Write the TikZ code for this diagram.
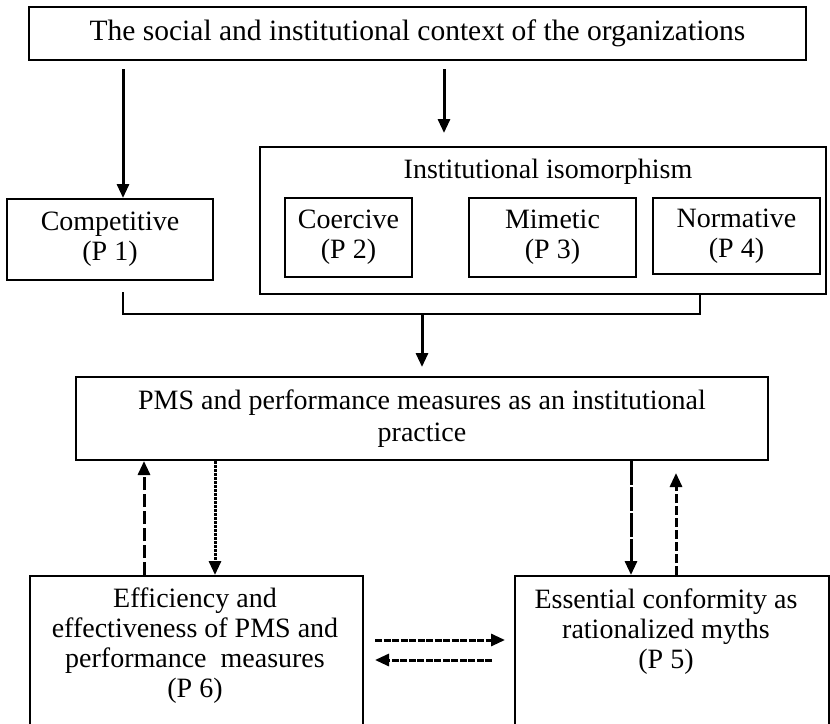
\documentclass[tikz,border=0pt]{standalone}
\usepackage{fontspec}
\setmainfont{Liberation Serif}
\usetikzlibrary{arrows.meta}
\begin{document}
\begin{tikzpicture}[x=1pt,y=-1pt,
  box/.style={draw, line width=2pt, rectangle, inner sep=0pt, align=center,
              font=\fontsize{28}{30}\selectfont},
  lbl/.style={inner sep=0pt, align=center, font=\fontsize{28}{30}\selectfont},
  tipshape/.style={-{Triangle[width=12pt,length=14pt]}},
  arr/.style={line width=3pt, tipshape},
  link/.style={line width=2pt},
  longdash/.style={arr, dash pattern=on 13pt off 4pt},
  finedash/.style={arr, dash pattern=on 3pt off 1pt},
  gapdash/.style={arr, dash pattern=on 24pt off 2pt},
  shortdash/.style={arr, dash pattern=on 9pt off 3pt},
  hdash/.style={arr, dash pattern=on 7pt off 1.5pt}
]
\useasboundingbox (0,0) rectangle (830,723);
\fill[white] (0,0) rectangle (830,723);

% top context box
\node[box, minimum width=777pt, minimum height=53pt, font=\fontsize{29.5}{30}\selectfont]
  (ctx) at (417.5,33.5)
  {The social and institutional context of the organizations};

% competitive pressure
\node[box, minimum width=206pt, minimum height=81pt] (comp) at (110,239.5)
  {Competitive\\(P 1)};

% institutional isomorphism group
\node[box, minimum width=566pt, minimum height=147pt] (inst) at (543,220.5) {};
\node[lbl] (insttitle) at (548,172) {Institutional isomorphism};
\node[box, minimum width=127pt, minimum height=79pt] (coer) at (348.5,237.5)
  {Coercive\\(P 2)};
\node[box, minimum width=167pt, minimum height=79pt] (mim) at (552.5,237.5)
  {Mimetic\\(P 3)};
\node[box, minimum width=167pt, minimum height=76pt] (norm) at (736.5,236)
  {Normative\\(P 4)};

% institutional practice
\node[box, minimum width=692pt, minimum height=83pt] (pms) at (422,418.5)
  {PMS and performance measures as an institutional\\[2pt]practice};

% outcome boxes (run off the lower edge)
\node[box, minimum width=333pt, minimum height=154pt] (eff) at (196.5,653) {};
\node[lbl] (efftext) at (195,646)
  {Efficiency and\\effectiveness of PMS and\\performance\ \ measures\\(P 6)};
\node[box, minimum width=314pt, minimum height=154pt] (ess) at (672,653) {};
\node[lbl] (esstext) at (666,632)
  {Essential conformity as\\rationalized myths\\(P 5)};

% helper abscissae
\coordinate (xa) at (123,0);
\coordinate (xb) at (444,0);
\coordinate (xd) at (699.5,0);
\coordinate (xe) at (144,0);
\coordinate (xf) at (215,0);
\coordinate (xg) at (631,0);
\coordinate (xh) at (676,0);
\coordinate (ya) at (0,640);
\coordinate (yb) at (0,660);
\coordinate (join) at (422,314);

% arrows from the context
\draw[arr, shorten <=8pt] (ctx.south -| xa) -- (comp.north -| xa);
\draw[arr, shorten <=8pt, shorten >=13pt] (ctx.south -| xb) -- (inst.north -| xb);

% bracket joining both sources
\draw[link, line cap=rect] (comp.south -| xa) ++(0,12) |- (join) -| (inst.south -| xd);
\draw[arr, shorten >=9pt] (join) -- (pms.north -| join);

% feedback between practice and outcomes
\draw[longdash] (eff.north -| xe) -- (pms.south -| xe);
\draw[finedash] (pms.south -| xf) -- (eff.north -| xf);
\draw[gapdash] (pms.south -| xg) -- (ess.north -| xg);
\draw[shortdash, shorten >=12pt] (ess.north -| xh) -- (pms.south -| xh);

% exchange between outcomes
\draw[hdash, shorten <=11pt, shorten >=9pt] (eff.east |- ya) -- (ess.west |- ya);
\draw[hdash, shorten <=22pt, shorten >=11pt] (ess.west |- yb) -- (eff.east |- yb);
\end{tikzpicture}
\end{document}
